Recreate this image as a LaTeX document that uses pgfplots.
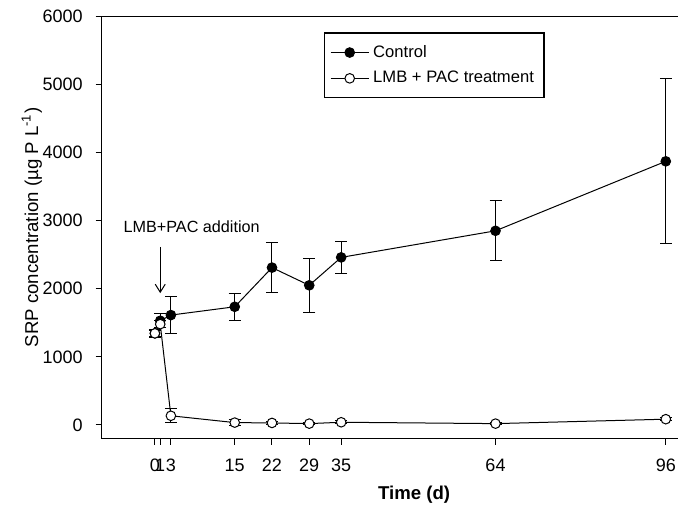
\documentclass[border=0pt]{standalone}
\usepackage{fontspec}
\setmainfont{Liberation Sans}
\usepackage{pgfplots}
\usepackage{pgfplotstable}
\pgfplotsset{compat=1.18}
\usetikzlibrary{arrows.meta}
\pgfplotstableread{
x y e
0 1345 40
1 1530 105
3 1613 268
15 1735 195
22 2310 370
29 2050 395
35 2460 240
64 2850 440
96 3870 1210
}\control
\pgfplotstableread{
x y e
0 1345 55
1 1480 50
3 135 100
15 35 40
22 30 20
29 20 20
35 40 20
64 20 20
96 85 20
}\treat
\begin{document}
\begin{tikzpicture}
\begin{axis}[
  scale only axis, width=288.7pt, height=211.2pt,
  xmin=-10, xmax=98.5, ymin=-200, ymax=6000,
  xtick={0,1,3,15,22,29,35,64,96},
  ytick={0,1000,2000,3000,4000,5000,6000},
  tick align=outside, tick pos=left,
  major tick length=3pt,
  tick style={black, line width=0.5pt},
  /pgf/number format/assume math mode=true,
  yticklabel style={/pgf/number format/1000 sep={}, xshift=-3pt},
  xticklabel style={yshift=-3.5pt},
  tick label style={font=\fontsize{9}{10}\selectfont},
  xlabel={\textbf{Time (d)}},
  ylabel={SRP concentration (µg P L\textsuperscript{-1})},
  x label style={at={(axis description cs:0.541,-0.143)}, anchor=base, font=\fontsize{9.3}{11}\selectfont},
  y label style={at={(axis description cs:-0.121,0.5)}, anchor=center, rotate=0, font=\fontsize{9.3}{11}\selectfont},
  axis line style={line width=0.6pt},
  legend style={at={(axis cs:31.7,5762)}, anchor=north west, draw=black, line width=0.6pt,
    font=\fontsize{8.3}{9.5}\selectfont, inner xsep=3pt, inner ysep=4pt, row sep=1.5pt},
  legend cell align=left,
  legend image code/.code={\draw[mark repeat=2,mark phase=2,#1] plot coordinates {(0pt,0pt)(9.5pt,0pt)(19pt,0pt)};},
  errs/.style={forget plot, draw=none, mark=none,
    error bars/.cd, y dir=both, y explicit,
    error bar style={black, line width=0.5pt},
    error mark options={rotate=90, mark size=3pt, line width=0.5pt, black}},
]
\addplot[errs] table[x=x, y=y, y error=e] {\control};
\addplot[black, line width=0.5pt, mark=*, mark size=2.4pt, mark options={fill=black, draw=black}]
  table[x=x, y=y] {\control};
\addlegendentry{Control}
\addplot[errs] table[x=x, y=y, y error=e] {\treat};
\addplot[black, line width=0.5pt, mark=*, mark size=2.4pt, mark options={fill=white, draw=black}]
  table[x=x, y=y] {\treat};
\addlegendentry{LMB + PAC treatment}
\node[font=\fontsize{8.1}{10}\selectfont] at (axis cs:6.9,2910) {LMB+PAC addition};
\draw[-{Straight Barb[length=4pt,width=5pt]}, line width=0.5pt] (axis cs:1,2614) -- (axis cs:1,1935);
\coordinate (O) at (rel axis cs:0,0);
\end{axis}
\pgfresetboundingbox
\path (O) ++(-50.85pt,-32.7pt) rectangle ++(339pt,252pt);
\end{tikzpicture}
\end{document}
